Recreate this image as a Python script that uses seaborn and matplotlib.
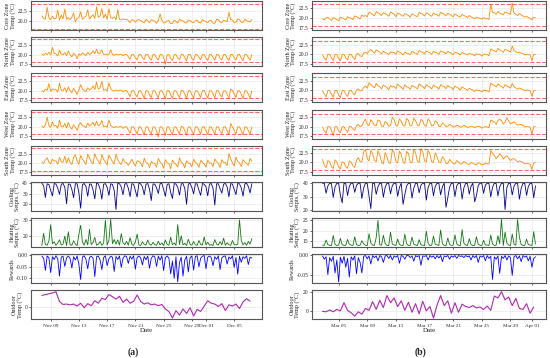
import pandas as pd
import seaborn as sns
import matplotlib.pyplot as plt
import matplotlib.dates as mdates
from matplotlib.ticker import MultipleLocator, FormatStrFormatter

# ---- data (6-hourly samples; outdoor temp 12-hourly) ----
start_a = "2022-11-07 18:00"
start_b = "2023-03-02 18:00"

core_a = [
    21.2, 20.6, 20.4, 23.3, 20.8, 20.3, 21.1, 20.5,
    20.6, 22.6, 20.2, 21.4, 20.5, 22.9, 20.4, 20.8,
    20.3, 20.9, 21.9, 19.8, 20.6, 20.9, 22.2, 20.4,
    20.8, 21.2, 22.7, 20.5, 21.0, 21.5, 20.6, 23.4,
    20.9, 21.2, 23.0, 20.7, 21.6, 20.4, 22.9, 20.8,
    20.6, 21.0, 20.3, 22.7, 20.4, 20.2, 20.5, 20.3,
    20.4, 20.1, 19.6, 20.3, 20.2, 19.7, 20.2, 20.3,
    20.1, 19.8, 19.5, 20.4, 20.0, 19.6, 20.3, 20.1,
    19.9, 19.4, 20.1, 21.7, 20.2, 19.5, 19.6, 20.0,
    20.1, 19.3, 19.4, 20.2, 19.9, 19.5, 20.4, 20.1,
    20.0, 19.6, 19.5, 20.2, 20.1, 19.7, 19.6, 20.0,
    20.2, 19.6, 19.5, 20.3, 20.0, 19.8, 19.6, 20.1,
    20.1, 19.5, 19.4, 20.4, 20.3, 19.7, 19.6, 20.2,
    20.0, 19.8, 22.1, 20.3, 20.2, 19.6, 19.7, 20.5,
    20.3, 19.7, 19.6, 20.4, 20.1, 19.9, 19.8, 20.3]
north_a = [
    20.1, 19.8, 20.3, 20.0, 20.6, 19.9, 21.9, 20.3,
    20.2, 19.6, 21.2, 20.1, 19.9, 20.5, 19.7, 21.0,
    20.0, 19.4, 20.3, 19.9, 18.9, 20.2, 19.8, 20.4,
    20.1, 19.7, 20.6, 20.0, 20.3, 21.0, 20.2, 21.4,
    20.2, 20.4, 21.2, 20.0, 20.1, 19.9, 20.0, 21.3,
    20.0, 19.8, 20.1, 19.9, 20.0, 20.1, 19.7, 20.0,
    20.0, 19.4, 18.7, 20.0, 20.0, 19.1, 18.6, 20.0,
    20.0, 19.2, 18.7, 20.0, 20.0, 19.0, 18.5, 20.0,
    20.0, 19.1, 18.5, 20.0, 20.0, 19.2, 17.4, 19.9,
    20.0, 19.0, 18.4, 20.0, 20.0, 19.1, 18.6, 20.0,
    20.0, 19.2, 18.3, 20.0, 20.0, 19.0, 18.5, 20.0,
    20.0, 19.3, 18.6, 20.0, 20.0, 19.1, 18.4, 20.0,
    20.0, 19.2, 18.5, 20.0, 20.0, 19.0, 18.6, 20.0,
    20.0, 19.1, 18.4, 20.0, 20.0, 19.2, 18.5, 20.0,
    20.0, 19.1, 18.3, 20.0, 20.0, 19.2, 18.5, 20.0]
east_a = [
    20.0, 19.7, 20.4, 20.1, 21.9, 19.8, 20.5, 20.2,
    20.3, 19.6, 22.0, 20.1, 20.0, 20.8, 19.6, 21.0,
    20.0, 19.5, 20.6, 19.9, 19.0, 20.3, 21.6, 20.4,
    20.1, 19.8, 20.8, 20.2, 20.5, 21.3, 20.3, 22.3,
    20.4, 20.8, 22.5, 20.1, 20.3, 19.9, 22.1, 20.6,
    20.0, 19.9, 20.2, 20.0, 20.1, 20.2, 19.7, 20.0,
    20.0, 19.3, 18.4, 20.0, 20.0, 19.0, 18.3, 20.0,
    20.0, 19.1, 18.0, 20.0, 20.0, 18.9, 18.2, 20.0,
    20.0, 19.0, 18.1, 20.0, 20.0, 19.1, 17.8, 20.0,
    20.0, 18.9, 18.0, 20.0, 20.0, 19.0, 18.2, 20.1,
    20.0, 19.1, 17.9, 20.0, 20.0, 18.9, 18.1, 20.0,
    20.0, 19.2, 18.2, 20.0, 20.1, 19.0, 18.0, 20.0,
    20.0, 19.1, 18.1, 20.0, 20.0, 18.9, 18.3, 20.0,
    20.0, 19.0, 18.0, 20.5, 20.0, 19.1, 18.2, 20.0,
    20.0, 19.0, 17.9, 20.0, 20.0, 19.1, 18.1, 20.0]
west_a = [
    20.2, 19.8, 20.5, 22.6, 20.3, 19.9, 21.3, 20.2,
    20.4, 19.6, 21.8, 20.1, 20.0, 20.9, 19.7, 21.2,
    20.0, 19.4, 20.5, 19.9, 19.1, 20.6, 21.1, 20.3,
    20.2, 19.8, 21.0, 20.2, 20.6, 21.2, 20.2, 21.5,
    20.3, 20.6, 21.7, 20.0, 20.2, 19.9, 21.8, 20.4,
    20.0, 19.8, 20.1, 19.9, 20.0, 20.1, 19.6, 20.0,
    20.0, 19.2, 18.3, 20.0, 20.0, 19.0, 18.1, 20.0,
    20.0, 19.0, 17.9, 20.0, 20.0, 18.8, 18.1, 20.0,
    20.0, 18.9, 17.3, 20.0, 20.0, 19.0, 17.7, 20.0,
    20.0, 18.8, 17.9, 20.0, 20.0, 19.0, 18.1, 20.1,
    20.0, 19.0, 17.8, 20.0, 20.0, 18.9, 18.0, 20.0,
    20.0, 19.1, 18.1, 20.0, 20.0, 18.9, 17.9, 20.0,
    20.0, 19.0, 18.0, 20.0, 20.0, 18.8, 18.2, 20.0,
    20.0, 18.9, 17.9, 20.9, 20.0, 19.0, 18.1, 20.0,
    20.0, 18.9, 17.8, 20.0, 20.0, 19.0, 18.0, 20.0]
south_a = [
    20.3, 19.9, 20.8, 21.4, 20.2, 19.8, 21.0, 20.5,
    20.6, 19.7, 21.5, 20.3, 20.2, 21.8, 20.0, 21.4,
    20.1, 19.6, 21.6, 22.2, 20.5, 19.7, 22.0, 21.0,
    20.4, 19.6, 22.4, 21.3, 20.3, 19.8, 22.5, 21.2,
    20.5, 19.7, 22.3, 21.0, 20.2, 19.5, 22.1, 21.3,
    20.3, 19.8, 22.4, 20.9, 20.1, 19.6, 21.2, 20.3,
    20.1, 19.4, 20.2, 21.0, 20.0, 19.2, 20.6, 20.4,
    20.0, 19.0, 21.3, 20.2, 19.9, 18.8, 20.4, 20.0,
    19.9, 18.9, 21.2, 20.3, 19.8, 18.6, 20.9, 20.1,
    19.9, 18.4, 20.8, 20.0, 19.7, 18.9, 21.4, 20.2,
    19.8, 18.7, 20.6, 20.0, 19.9, 19.0, 21.0, 20.1,
    19.9, 18.8, 20.7, 20.2, 19.8, 18.9, 20.8, 20.0,
    20.0, 19.0, 21.1, 20.3, 19.9, 18.8, 20.9, 20.1,
    20.1, 19.3, 22.5, 21.2, 20.0, 19.2, 21.6, 20.4,
    20.0, 19.1, 20.9, 20.3, 19.9, 19.4, 21.2, 20.5]
cool_a = [
    39.8, 37.5, 26.4, 39.2, 38.6, 33.0, 27.8, 39.5,
    39.0, 35.2, 29.3, 38.7, 39.6, 36.1, 20.4, 39.1,
    38.8, 34.0, 26.2, 39.4, 39.2, 30.5, 16.2, 38.6,
    39.5, 36.8, 27.5, 39.0, 38.9, 33.6, 25.1, 39.7,
    39.1, 34.4, 24.8, 38.8, 39.4, 35.9, 28.3, 39.2,
    38.7, 33.1, 15.0, 39.6, 39.3, 36.2, 29.0, 39.0,
    39.5, 35.0, 27.2, 39.3, 38.9, 32.7, 26.8, 39.6,
    39.2, 36.4, 28.9, 38.8, 39.5, 34.2, 23.5, 39.1,
    38.9, 35.5, 30.1, 39.4, 39.6, 33.9, 27.4, 38.7,
    39.3, 31.2, 25.4, 39.5, 39.0, 36.0, 28.6, 39.2,
    39.4, 34.8, 20.0, 38.9, 39.7, 35.7, 29.8, 39.3,
    39.1, 33.3, 28.3, 39.6, 38.8, 36.5, 27.9, 39.0,
    39.5, 35.1, 19.2, 39.2, 39.3, 34.6, 30.4, 38.9,
    39.6, 36.3, 26.9, 39.4, 39.0, 33.8, 29.1, 39.5,
    39.2, 35.4, 27.6, 39.1, 39.7, 36.7, 30.6, 39.4]
heat_a = [
    13.6, 21.4, 14.2, 13.8, 16.5, 26.9, 14.8, 16.0,
    13.7, 15.2, 17.3, 13.9, 14.5, 19.6, 13.6, 22.4,
    14.1, 13.8, 16.7, 14.6, 13.5, 21.0, 26.5, 15.8,
    13.9, 17.5, 14.0, 24.0, 14.2, 15.5, 18.8, 13.8,
    14.4, 16.2, 13.7, 15.1, 29.8, 14.0, 16.9, 30.3,
    14.8, 17.5, 14.5, 17.2, 13.9, 21.2, 15.4, 14.1,
    16.3, 13.8, 18.6, 14.4, 13.7, 15.9, 20.9, 14.0,
    13.6, 16.0, 14.3, 13.9, 17.1, 14.5, 13.8, 15.6,
    14.2, 13.7, 16.4, 14.0, 15.2, 13.6, 17.2, 14.3,
    13.8, 18.9, 14.1, 15.3, 13.7, 27.0, 14.2, 19.8,
    14.0, 15.0, 13.6, 17.6, 14.4, 13.8, 16.2, 14.1,
    13.7, 16.8, 14.3, 13.9, 19.1, 14.0, 15.7, 13.8,
    14.2, 13.6, 17.4, 14.5, 13.9, 16.1, 14.0, 18.3,
    13.8, 15.4, 14.1, 13.7, 16.8, 14.2, 14.0, 14.4,
    30.0, 17.0, 14.0, 15.5, 13.7, 16.3, 14.5, 18.0]
reward_a = [
    -0.004, -0.012, -0.065, -0.003, -0.010, -0.075, -0.006, -0.018,
    -0.002, -0.015, -0.090, -0.008, -0.004, -0.048, -0.011, -0.003,
    -0.013, -0.055, -0.006, -0.020, -0.003, -0.040, -0.105, -0.007,
    -0.002, -0.017, -0.058, -0.009, -0.004, -0.012, -0.092, -0.006,
    -0.003, -0.020, -0.062, -0.010, -0.002, -0.045, -0.015, -0.004,
    -0.008, -0.070, -0.005, -0.018, -0.003, -0.052, -0.012, -0.002,
    -0.006, -0.035, -0.004, -0.016, -0.002, -0.060, -0.009, -0.003,
    -0.011, -0.042, -0.005, -0.019, -0.003, -0.056, -0.013, -0.002,
    -0.007, -0.048, -0.004, -0.021, -0.002, -0.066, -0.010, -0.003,
    -0.012, -0.080, -0.025, -0.100, -0.006, -0.115, -0.030, -0.008,
    -0.090, -0.020, -0.004, -0.072, -0.010, -0.003, -0.064, -0.005,
    -0.002, -0.050, -0.012, -0.004, -0.001, -0.058, -0.008, -0.003,
    -0.010, -0.045, -0.006, -0.017, -0.002, -0.062, -0.011, -0.004,
    -0.003, -0.038, -0.007, -0.015, -0.002, -0.052, -0.009, -0.082,
    -0.004, -0.030, -0.006, -0.013, -0.002, -0.040, -0.008, -0.012]
outdoor_a = [
    13.5, 14.5, 15.5, 16.5, 18.0, 6.0, 2.5, 3.0, 2.0, 3.0,
    0.5, 4.0, -1.5, 3.5, 1.0, 7.0, 4.0, 10.0, 8.5, 14.5,
    12.0, 9.0, 12.5, 5.0, 9.0, 4.0, 6.5, 14.0, 6.0, 3.0,
    4.5, 2.0, 3.0, 1.0, 2.5, -3.0, -6.0, -14.0, -5.0, -10.5,
    -3.0, -8.5, -1.5, -11.5, -3.5, -6.0, 0.5, 7.0, 4.0, 3.0,
    0.0, 3.5, -5.0, 2.0, 0.5, 3.0, -2.5, 5.5, 9.5, 6.5]

core_b = [
    19.8, 19.5, 20.0, 20.2, 19.7, 19.4, 20.1, 19.9,
    19.6, 19.3, 20.2, 20.0, 19.8, 19.5, 20.3, 20.1,
    19.9, 19.6, 20.5, 20.3, 20.1, 19.8, 20.7, 20.4,
    20.6, 20.3, 21.4, 21.2, 20.9, 20.5, 21.6, 21.3,
    21.0, 20.6, 21.3, 21.1, 20.8, 20.4, 21.5, 21.2,
    20.9, 20.3, 21.2, 21.0, 20.7, 20.4, 21.1, 20.9,
    20.6, 20.2, 21.0, 20.8, 20.5, 20.3, 21.4, 21.1,
    20.9, 20.5, 21.3, 21.0, 20.7, 20.4, 21.2, 20.9,
    20.8, 20.4, 21.4, 21.1, 20.9, 20.5, 21.2, 20.9,
    20.6, 20.3, 21.0, 20.7, 20.4, 20.2, 20.9, 20.6,
    20.4, 20.1, 20.6, 20.3, 20.0, 19.8, 20.2, 20.0,
    19.9, 19.7, 20.1, 19.9, 19.8, 19.6, 23.4, 21.4,
    21.3, 20.9, 21.6, 21.2, 21.0, 20.8, 21.5, 21.3,
    21.1, 20.9, 23.7, 21.2, 20.9, 20.6, 21.1, 20.8,
    20.5, 20.2, 20.4, 20.1, 19.9, 19.5, 20.2, 20.1]
north_b = [
    19.9, 19.0, 18.4, 20.0, 20.0, 19.1, 18.3, 20.0,
    20.0, 18.9, 18.2, 20.0, 20.0, 19.0, 18.5, 20.0,
    20.0, 19.2, 18.6, 20.1, 20.2, 19.6, 19.4, 20.3,
    20.6, 20.2, 20.9, 21.3, 20.8, 20.3, 21.2, 20.9,
    20.6, 20.1, 20.8, 20.5, 20.3, 19.9, 20.7, 20.4,
    20.5, 20.0, 20.9, 20.6, 20.3, 19.8, 20.6, 20.3,
    20.2, 19.9, 20.8, 20.5, 20.3, 20.0, 21.0, 20.7,
    20.5, 20.1, 20.9, 20.6, 20.4, 20.0, 20.8, 20.5,
    20.4, 20.0, 20.9, 20.7, 20.5, 20.1, 20.8, 20.5,
    20.3, 19.9, 20.6, 20.4, 20.2, 19.8, 20.5, 20.2,
    20.1, 19.8, 20.3, 20.1, 20.0, 19.6, 20.1, 20.0,
    20.0, 19.5, 20.0, 20.0, 19.9, 19.6, 21.5, 21.1,
    21.0, 20.6, 21.6, 21.2, 20.9, 20.5, 21.4, 21.1,
    20.9, 20.6, 22.2, 21.0, 20.7, 20.4, 20.6, 20.3,
    20.2, 19.8, 20.0, 19.9, 19.8, 18.3, 20.0, 20.0]
east_b = [
    19.9, 19.0, 18.3, 20.0, 20.0, 19.0, 18.2, 20.0,
    20.0, 18.8, 18.1, 20.0, 20.0, 19.0, 18.4, 20.0,
    20.0, 19.3, 18.8, 20.2, 20.4, 19.9, 20.0, 20.8,
    21.2, 20.6, 22.1, 21.6, 21.2, 20.7, 21.9, 21.3,
    21.0, 20.4, 21.5, 21.1, 20.8, 20.2, 21.3, 20.9,
    21.1, 20.5, 21.7, 21.2, 20.9, 20.3, 21.5, 21.0,
    20.8, 20.3, 21.4, 21.0, 20.9, 20.4, 21.8, 21.3,
    21.1, 20.5, 21.6, 21.1, 20.9, 20.4, 21.5, 21.0,
    20.9, 20.3, 21.6, 21.2, 21.0, 20.5, 21.4, 21.0,
    20.8, 20.2, 21.2, 20.9, 20.6, 20.1, 21.0, 20.6,
    20.4, 20.0, 20.6, 20.3, 20.1, 19.7, 20.2, 20.0,
    20.0, 19.6, 20.1, 20.0, 19.9, 19.6, 22.0, 21.6,
    21.4, 20.9, 21.8, 21.3, 21.1, 20.6, 21.6, 21.2,
    21.0, 20.6, 21.9, 21.0, 20.7, 20.3, 20.7, 20.4,
    20.3, 19.9, 20.1, 20.0, 19.9, 18.4, 20.0, 20.0]
west_b = [
    19.9, 18.9, 18.2, 20.0, 20.0, 19.0, 17.6, 20.0,
    20.0, 18.9, 18.3, 20.0, 20.0, 19.1, 18.5, 20.0,
    20.0, 19.4, 19.0, 20.3, 20.6, 20.0, 20.2, 21.3,
    22.0, 20.6, 20.3, 21.9, 21.2, 20.4, 20.2, 21.8,
    21.6, 20.2, 20.0, 21.4, 21.0, 20.1, 20.3, 22.5,
    21.9, 20.4, 20.2, 22.1, 21.5, 20.3, 20.1, 22.2,
    21.7, 20.2, 20.4, 22.3, 21.6, 20.4, 20.2, 22.0,
    21.5, 20.3, 20.1, 22.1, 21.4, 20.2, 20.3, 21.6,
    21.2, 20.1, 20.0, 21.0, 20.6, 20.0, 20.1, 20.6,
    20.3, 19.9, 20.0, 20.4, 20.2, 19.8, 20.0, 20.3,
    20.1, 19.8, 19.9, 20.1, 20.0, 19.7, 20.0, 20.1,
    20.0, 19.6, 19.9, 20.0, 19.9, 19.7, 21.8, 21.5,
    21.3, 20.6, 21.7, 22.0, 21.6, 20.7, 21.2, 22.4,
    21.5, 20.8, 21.0, 21.3, 20.8, 20.4, 20.5, 20.6,
    20.3, 19.9, 20.0, 20.0, 19.8, 18.0, 20.0, 20.0]
south_b = [
    20.8, 19.3, 18.6, 20.5, 20.2, 18.9, 18.4, 20.7,
    20.1, 18.8, 18.3, 20.2, 20.0, 18.9, 18.5, 20.4,
    20.1, 19.2, 18.7, 20.6, 21.3, 20.2, 20.1, 22.8,
    23.4, 21.0, 20.4, 23.2, 22.3, 20.6, 20.2, 23.1,
    22.0, 20.1, 19.6, 22.6, 21.5, 19.9, 19.8, 23.3,
    22.6, 20.3, 19.9, 23.0, 22.1, 20.2, 19.7, 22.9,
    22.4, 20.1, 19.9, 23.4, 22.6, 20.3, 20.0, 23.6,
    22.8, 20.4, 20.1, 23.2, 22.2, 20.2, 20.0, 22.5,
    21.6, 20.1, 19.9, 21.5, 20.9, 19.8, 19.7, 20.8,
    20.3, 19.7, 19.6, 20.5, 20.1, 19.6, 19.7, 20.3,
    20.0, 19.6, 19.5, 20.0, 19.8, 19.5, 19.4, 19.9,
    19.8, 19.3, 19.5, 19.8, 19.7, 19.6, 23.1, 22.4,
    21.9, 21.0, 21.6, 22.3, 21.8, 20.9, 21.4, 21.8,
    21.2, 20.5, 20.9, 21.0, 20.6, 20.2, 20.4, 20.3,
    20.0, 19.6, 19.8, 19.7, 19.5, 18.2, 19.9, 20.0]
cool_b = [
    40.0, 39.9, 32.5, 38.0, 40.0, 39.8, 29.4, 37.2,
    40.0, 39.9, 31.0, 25.3, 40.0, 39.7, 30.8, 37.9,
    40.0, 39.8, 33.2, 38.4, 40.0, 39.9, 28.6, 36.5,
    40.0, 39.8, 30.3, 21.0, 40.0, 39.9, 31.7, 37.4,
    40.0, 39.7, 29.5, 36.8, 40.0, 39.8, 32.1, 38.2,
    40.0, 39.9, 30.2, 37.0, 40.0, 24.2, 31.5, 38.0,
    40.0, 39.8, 28.9, 36.3, 40.0, 39.7, 32.8, 38.5,
    40.0, 39.9, 27.4, 36.9, 40.0, 39.8, 30.6, 37.7,
    40.0, 39.8, 31.3, 37.5, 40.0, 22.0, 29.2, 37.1,
    40.0, 39.9, 30.0, 38.1, 40.0, 39.8, 28.2, 36.6,
    40.0, 39.7, 31.9, 37.8, 40.0, 26.1, 30.7, 38.3,
    40.0, 39.9, 32.4, 38.6, 40.0, 39.8, 29.8, 37.0,
    40.0, 39.8, 30.5, 37.4, 40.0, 39.9, 20.3, 36.8,
    40.0, 39.7, 31.2, 37.9, 40.0, 39.8, 28.0, 36.2,
    40.0, 39.9, 30.9, 37.6, 40.0, 39.8, 29.1, 38.0]
heat_b = [
    13.2, 13.0, 15.6, 13.4, 13.1, 12.9, 17.8, 13.5,
    13.0, 13.2, 16.4, 13.3, 13.1, 13.0, 15.9, 13.6,
    13.2, 13.0, 17.2, 13.4, 13.0, 13.1, 15.3, 13.8,
    13.1, 13.0, 18.6, 14.2, 13.2, 13.0, 16.8, 25.0,
    13.3, 13.1, 17.9, 14.0, 13.0, 12.9, 19.3, 13.7,
    13.2, 13.0, 16.1, 13.5, 13.1, 13.0, 18.4, 13.9,
    13.0, 13.1, 17.0, 13.6, 13.2, 13.0, 15.8, 13.4,
    13.1, 13.0, 19.8, 14.1, 13.0, 13.1, 17.5, 13.6,
    13.3, 13.0, 20.4, 13.8, 13.1, 12.9, 16.6, 13.5,
    13.0, 13.2, 18.1, 13.7, 13.1, 13.0, 20.6, 14.0,
    13.2, 13.0, 16.3, 13.4, 13.0, 13.1, 17.2, 13.6,
    13.1, 13.0, 15.5, 13.3, 13.2, 13.0, 18.0, 13.8,
    13.0, 13.1, 17.7, 13.9, 25.5, 13.0, 19.4, 14.2,
    13.2, 13.0, 18.5, 13.6, 13.1, 25.4, 17.0, 13.5,
    13.0, 13.1, 16.0, 13.4, 13.2, 13.0, 19.6, 13.7]
reward_b = [
    -0.002, -0.010, -0.004, -0.048, -0.006, -0.015, -0.003, -0.044,
    -0.012, -0.066, -0.005, -0.020, -0.003, -0.030, -0.008, -0.054,
    -0.004, -0.012, -0.002, -0.046, -0.006, -0.018, -0.044, -0.003,
    -0.001, -0.009, -0.002, -0.022, -0.001, -0.006, -0.002, -0.014,
    -0.001, -0.004, -0.018, -0.002, -0.001, -0.008, -0.001, -0.012,
    -0.002, -0.005, -0.001, -0.020, -0.001, -0.003, -0.010, -0.001,
    -0.001, -0.006, -0.002, -0.015, -0.001, -0.004, -0.001, -0.025,
    -0.002, -0.003, -0.001, -0.012, -0.001, -0.005, -0.002, -0.009,
    -0.001, -0.007, -0.001, -0.016, -0.002, -0.004, -0.001, -0.010,
    -0.002, -0.005, -0.001, -0.008, -0.001, -0.003, -0.002, -0.006,
    -0.001, -0.004, -0.002, -0.012, -0.001, -0.006, -0.001, -0.018,
    -0.002, -0.005, -0.001, -0.014, -0.001, -0.008, -0.003, -0.060,
    -0.004, -0.010, -0.002, -0.045, -0.003, -0.008, -0.001, -0.012,
    -0.002, -0.006, -0.050, -0.004, -0.001, -0.009, -0.002, -0.016,
    -0.001, -0.005, -0.002, -0.014, -0.003, -0.030, -0.008, -0.004]
outdoor_b = [
    0.0, -0.5, 1.5, -0.5, 2.0, 0.5, 9.0, 1.0, -1.5, -5.0,
    -0.5, -3.0, 3.0, 1.0, 10.0, 2.0, 11.5, 4.0, 16.5, 9.0,
    14.0, 5.0, 11.0, 1.0, 9.5, -1.0, 8.0, -2.5, 10.5, 0.5,
    5.0, -7.0, 6.5, 16.5, 6.0, 11.0, -2.0, 9.0, -1.0, 7.5,
    5.0, 4.0, 6.0, 3.5, 4.5, 2.0, 5.5, 1.0, 16.0, 14.0,
    20.5, 12.0, 15.0, 6.0, 13.5, 3.0, 2.0, 8.0, -2.0, 4.5]

comfort_a = [18.0, 24.0]
comfort_b = [18.0, 23.5]

labels = ["Core Zone\nTemp (°C)", "North Zone\nTemp (°C)", "East Zone\nTemp (°C)",
          "West Zone\nTemp (°C)", "South Zone\nTemp (°C)", "Cooling\nSetpts. (°C)",
          "Heating\nSetpts. (°C)", "Rewards", "Outdoor\nTemp (°C)"]

# ---- style ----
sns.set_style("whitegrid")
plt.rcParams['font.family'] = ['Liberation Serif', 'DejaVu Serif']
plt.rcParams.update({
    "axes.edgecolor": "#555555",
    "axes.linewidth": 0.8,
    "grid.color": "#e3e3e3",
    "grid.linewidth": 0.4,
    "xtick.bottom": True,
    "ytick.left": True,
    "xtick.major.size": 1.5,
    "ytick.major.size": 1.5,
    "xtick.major.width": 0.5,
    "ytick.major.width": 0.5,
    "xtick.major.pad": 1.5,
    "ytick.major.pad": 1,
    "xtick.labelsize": 3.7,
    "ytick.labelsize": 4,
})

orange = "#ff8c00"
colors = [orange] * 5 + ["#00008b", "#117711", "#0000ff", "#b028b0"]


def draw_column(fig, gs, start, series, comfort, zone_ylims, heat_step, tag, tag_x):
    t6 = pd.date_range(start, periods=len(series[0]), freq="6h")
    t12 = pd.date_range(start, periods=len(series[-1]), freq="12h")
    axes = []
    for i, vals in enumerate(series):
        ax = fig.add_subplot(gs[i], sharex=axes[0] if axes else None)
        times = t12 if i == 8 else t6
        sns.lineplot(x=times, y=vals, ax=ax, color=colors[i],
                     linewidth=0.8 if i == 8 else 0.6)
        if i < 5:
            for c in comfort:
                ax.axhline(c, color="#ff3333", ls="--", lw=0.8, alpha=0.75)
            ax.set_ylim(zone_ylims[i])
            ax.yaxis.set_major_locator(MultipleLocator(2.5))
            ax.yaxis.set_major_formatter(FormatStrFormatter("%.1f"))
        elif i == 5:
            ax.yaxis.set_major_locator(MultipleLocator(10))
        elif i == 6:
            ax.yaxis.set_major_locator(MultipleLocator(heat_step))
        elif i == 7:
            ax.yaxis.set_major_locator(MultipleLocator(0.05))
            ax.yaxis.set_major_formatter(FormatStrFormatter("%.2f"))
        else:
            ax.yaxis.set_major_locator(MultipleLocator(20))
        ax.set_ylabel(labels[i], fontsize=4.4, labelpad=1, linespacing=1.1)
        ax.grid(True)
        if i < 8:
            ax.tick_params(labelbottom=False)
            ax.set_xlabel("")
        axes.append(ax)
    ax = axes[-1]
    ax.xaxis.set_major_locator(mdates.DayLocator(bymonthday=[1, 5, 9, 13, 17, 21, 25, 29]))
    ax.xaxis.set_major_formatter(mdates.DateFormatter("%b %d"))
    ax.set_xlabel("Date", fontsize=5, labelpad=0.5)
    fig.text(tag_x, 0.017, tag, ha="center", va="center", fontsize=7, fontweight="bold")
    return axes


fig = plt.figure(figsize=(5.5, 3.58), dpi=100)
gs_a = fig.add_gridspec(9, 1, left=0.057, right=0.477, top=0.997, bottom=0.108, hspace=0.25)
gs_b = fig.add_gridspec(9, 1, left=0.567, right=0.993, top=0.997, bottom=0.108, hspace=0.25)

ylims_a = [(17.8, 24.8), (16.9, 24.6), (16.9, 24.6), (16.9, 24.6), (16.9, 24.6)]
ylims_b = [(17.0, 24.2), (16.8, 24.6), (16.8, 24.6), (16.8, 24.6), (16.8, 24.4)]

draw_column(fig, gs_a, start_a,
            [core_a, north_a, east_a, west_a, south_a, cool_a, heat_a, reward_a, outdoor_a],
            comfort_a, ylims_a, 10, "(a)", 0.243)
draw_column(fig, gs_b, start_b,
            [core_b, north_b, east_b, west_b, south_b, cool_b, heat_b, reward_b, outdoor_b],
            comfort_b, ylims_b, 5, "(b)", 0.765)

fig.savefig("out.png", dpi=100)
